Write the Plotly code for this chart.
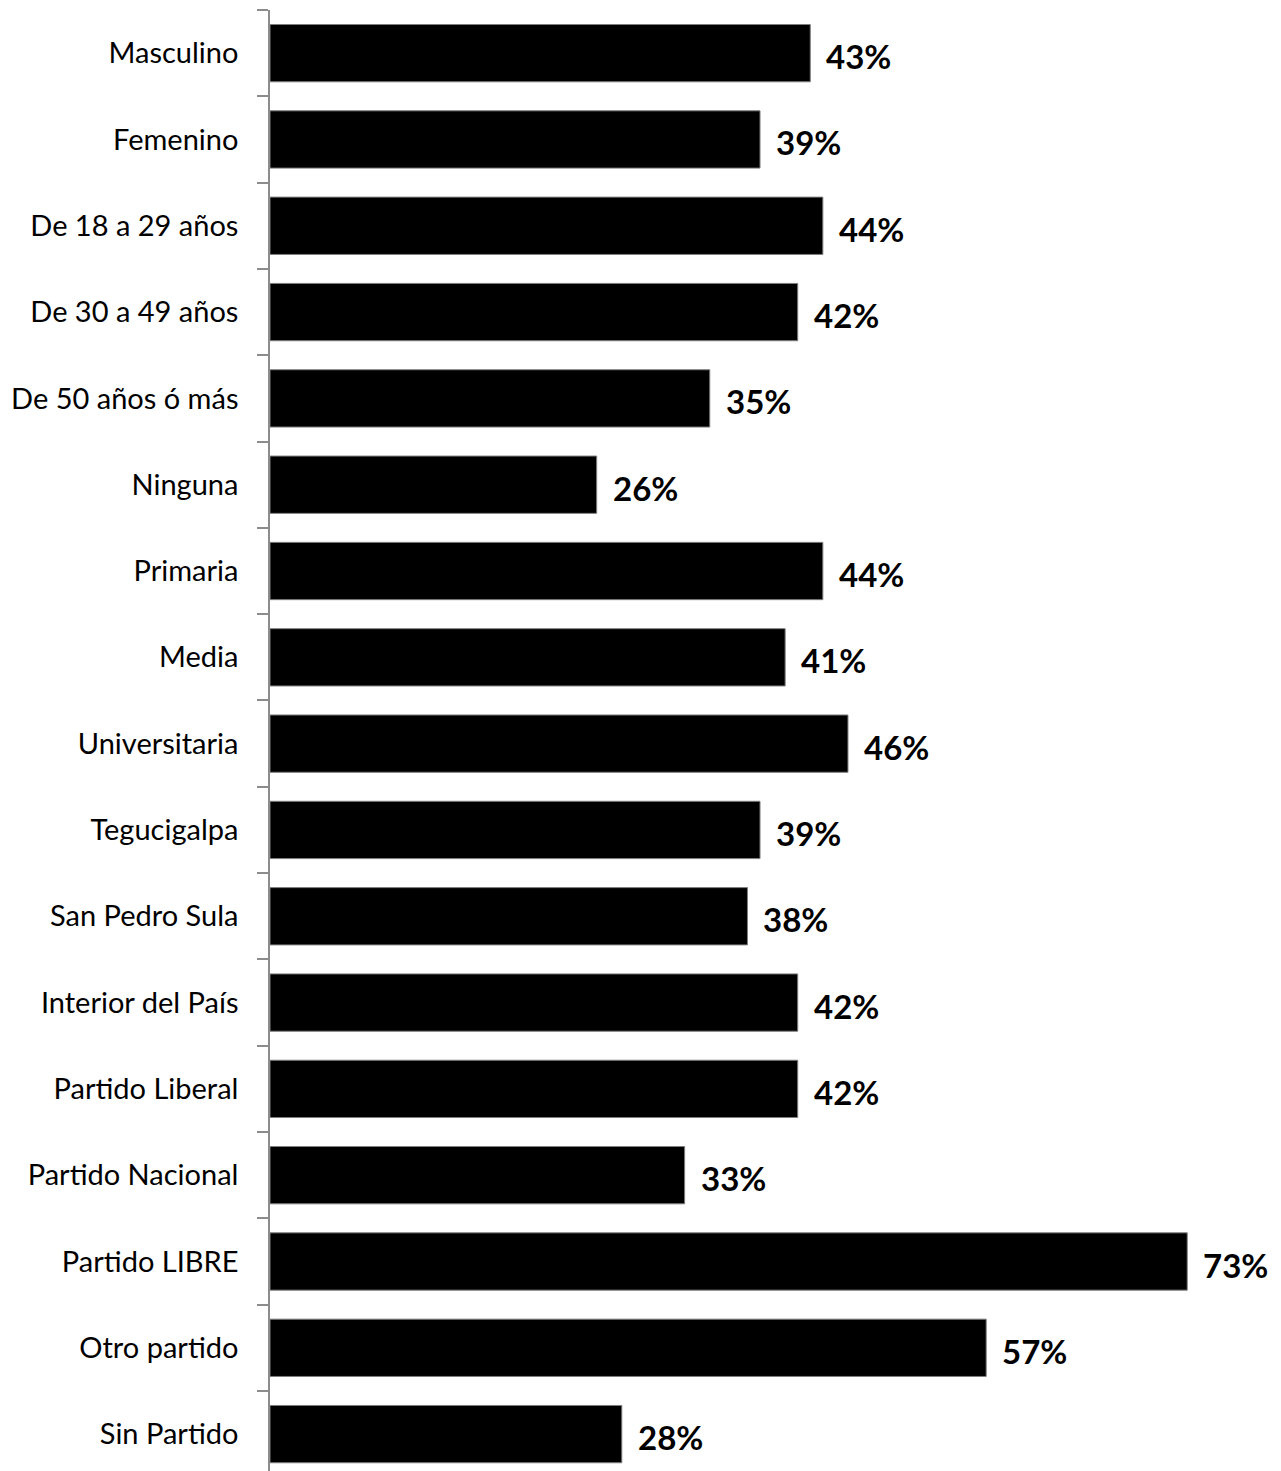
import plotly.graph_objects as go

# * categories, top to bottom
categories = [
    "Masculino", "Femenino", "De 18 a 29 años", "De 30 a 49 años",
    "De 50 años ó más", "Ninguna", "Primaria", "Media", "Universitaria",
    "Tegucigalpa", "San Pedro Sula", "Interior del País", "Partido Liberal",
    "Partido Nacional", "Partido LIBRE", "Otro partido", "Sin Partido",
]
values = [43, 39, 44, 42, 35, 26, 44, 41, 46, 39, 38, 42, 42, 33, 73, 57, 28]
labels = [f"{v}%" for v in values]

FONT = "Lato"
AXIS_GRAY = "#8c8c8c"

fig = go.Figure(
    go.Bar(
        x=values,
        y=categories,
        orientation="h",
        marker=dict(color="black", line=dict(color="#7f7f7f", width=1)),
        hoverinfo="skip",
    )
)

# * value labels right of the bars
for cat, v, lab in zip(categories, values, labels):
    fig.add_annotation(
        x=v, y=cat, text=f"<b>{lab}</b>", showarrow=False,
        xanchor="left", yanchor="middle", xshift=14, yshift=-3,
        font=dict(family=FONT, size=33, color="black"),
    )

# * page body adds 8px offset, compensate in margins
fig.update_layout(
    width=1281,
    height=1471,
    margin=dict(l=262, r=0, t=2, b=0),
    paper_bgcolor="white",
    plot_bgcolor="white",
    bargap=0.336,
    showlegend=False,
    font=dict(family=FONT, size=29, color="black"),
)

fig.update_xaxes(
    range=[0, 81.1],
    showgrid=False,
    zeroline=False,
    showticklabels=False,
    showline=False,
    ticks="",
)

fig.update_yaxes(
    type="category",
    categoryorder="array",
    categoryarray=categories,
    range=[16.52, -0.5],
    showgrid=False,
    zeroline=False,
    showline=True,
    linecolor=AXIS_GRAY,
    linewidth=1.5,
    ticks="outside",
    tickson="boundaries",
    ticklen=11,
    tickcolor=AXIS_GRAY,
    tickwidth=1.5,
    ticklabelstandoff=24,
)

fig.write_html("out.html")
